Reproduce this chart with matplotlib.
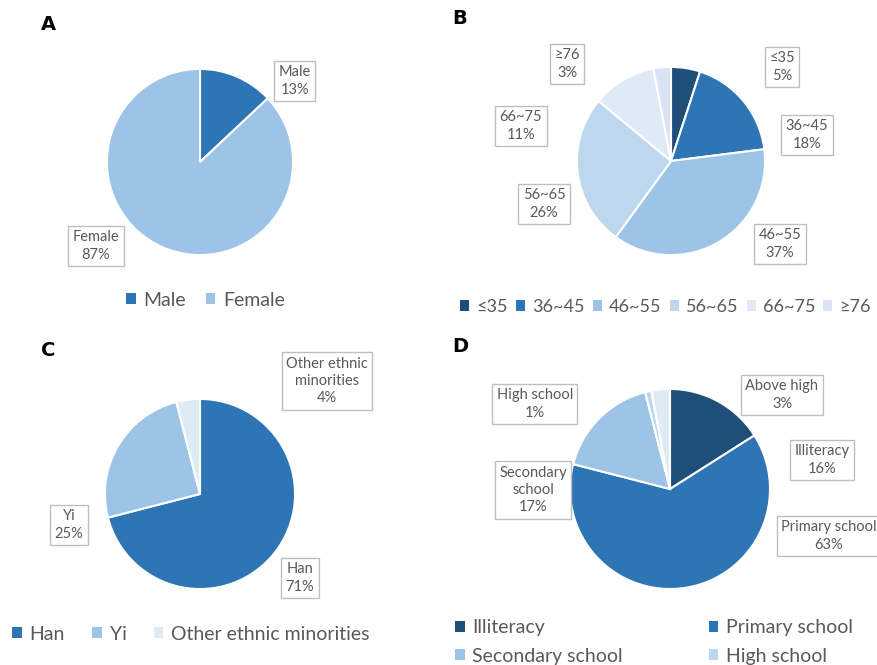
import matplotlib
matplotlib.use("Agg")
import matplotlib.pyplot as plt
from matplotlib.patches import Patch

# ---------------- data ----------------
gender_labels = ["Male", "Female"]
gender_values = [13, 87]

age_labels = ["≤35", "36~45", "46~55", "56~65", "66~75", "≥76"]
age_values = [5, 18, 37, 26, 11, 3]

ethnic_labels = ["Han", "Yi", "Other ethnic minorities"]
ethnic_values = [71, 25, 4]

edu_labels = ["Illiteracy", "Primary school", "Secondary school", "High school", "Above high"]
edu_values = [16, 63, 17, 1, 3]
# data-label texts as printed in the panels
edu_label_text = ["Illiteracy", "Primary school", "Secondary\nschool", "High school", "Above high"]
ethnic_label_text = ["Han", "Yi", "Other ethnic\nminorities"]

# ---------------- style ----------------
W, H = 878, 665
DPI = 100
FONT = ["Lato", "DejaVu Sans"]
TXT = "#595959"
BOXEDGE = "#BFBFBF"

c_dark = "#1F4E79"
c_mid = "#2E75B6"
c_light = "#9DC3E6"
c_lighter = "#BDD7EE"
c_pale = "#DEEBF7"
c_pale2 = "#DAE3F3"

gender_colors = [c_mid, c_light]
age_colors = [c_dark, c_mid, c_light, c_lighter, c_pale, c_pale2]
ethnic_colors = [c_mid, c_light, c_pale]
edu_colors = [c_dark, c_mid, c_light, c_lighter, c_pale]

fig = plt.figure(figsize=(W / DPI, H / DPI), dpi=DPI)
fig.patch.set_facecolor("white")


def fx(x):
    return x / W


def fy(y):
    return 1 - y / H


def draw_pie(cx, cy, r, values, colors):
    ax = fig.add_axes([fx(cx - r), fy(cy + r), 2 * r / W, 2 * r / H])
    ax.axis("off")
    ax.pie(values, colors=colors, startangle=90, counterclock=False, radius=1,
           wedgeprops=dict(edgecolor="white", linewidth=1.5))
    ax.set_xlim(-1.01, 1.01)
    ax.set_ylim(-1.01, 1.01)
    return ax


def data_label(x, y, name, value):
    fig.text(fx(x), fy(y), f"{name}\n{value}%", ha="center", va="center",
             fontsize=10.5, color=TXT, family=FONT, linespacing=1.3,
             bbox=dict(boxstyle="square,pad=0.3", facecolor="white",
                       edgecolor=BOXEDGE, linewidth=1.0))


def legend(labels, colors, x, y, ncol, colspace, loc="center left",
           labelspacing=0.5, size=14):
    handles = [Patch(facecolor=c, edgecolor="none") for c in colors]
    lg = fig.legend(handles, labels, loc=loc, bbox_to_anchor=(fx(x), fy(y)),
                    ncol=ncol, frameon=False, borderpad=0, borderaxespad=0,
                    handlelength=0.5, handleheight=0.5, handletextpad=0.4,
                    columnspacing=colspace, labelspacing=labelspacing,
                    prop=dict(family=FONT, size=size))
    for t in lg.get_texts():
        t.set_color(TXT)
    return lg


def panel_letter(x, y, s):
    fig.text(fx(x), fy(y), s, ha="left", va="center", fontsize=14,
             fontweight="bold", family=["DejaVu Sans"], color="black")


# ---------------- Panel A ----------------
draw_pie(200, 162, 94, gender_values, gender_colors)
panel_letter(41, 24, "A")
a_pos = [(295, 81), (96, 246)]
for (x, y), n, v in zip(a_pos, gender_labels, gender_values):
    data_label(x, y, n, v)
legend(gender_labels, gender_colors, 126, 300, 2, 1.0)

# ---------------- Panel B ----------------
draw_pie(671, 161, 95, age_values, age_colors)
panel_letter(452, 18, "B")
b_pos = [(782, 67), (807, 135), (780, 244), (544, 204), (521, 126), (567, 64)]
for (x, y), n, v in zip(b_pos, age_labels, age_values):
    data_label(x, y, n, v)
legend(age_labels, age_colors, 460, 307, 6, 0.45, size=13)

# ---------------- Panel C ----------------
draw_pie(200, 494, 96, ethnic_values, ethnic_colors)
panel_letter(41, 350, "C")
c_pos = [(300, 578), (69, 525), (327, 381)]
for (x, y), n, v in zip(c_pos, ethnic_label_text, ethnic_values):
    data_label(x, y, n, v)
legend(ethnic_labels, ethnic_colors, 12, 634, 3, 1.4)

# ---------------- Panel D ----------------
draw_pie(670, 489, 101, edu_values, edu_colors)
panel_letter(452, 346, "D")
d_pos = [(822, 460), (829, 536), (533, 490), (535, 404), (782, 395)]
for (x, y), n, v in zip(d_pos, edu_label_text, edu_values):
    data_label(x, y, n, v)
# legend read row by row (Illiteracy, Primary / Secondary, High school);
# the last entry falls below the figure edge in the reference, so only the
# visible four are shown
order = [0, 2, 1, 3]
legend([edu_labels[i] for i in order], [edu_colors[i] for i in order],
       455, 619, 2, 4.4, loc="upper left", labelspacing=0.6)

fig.savefig("out.png", dpi=DPI, facecolor="white")
